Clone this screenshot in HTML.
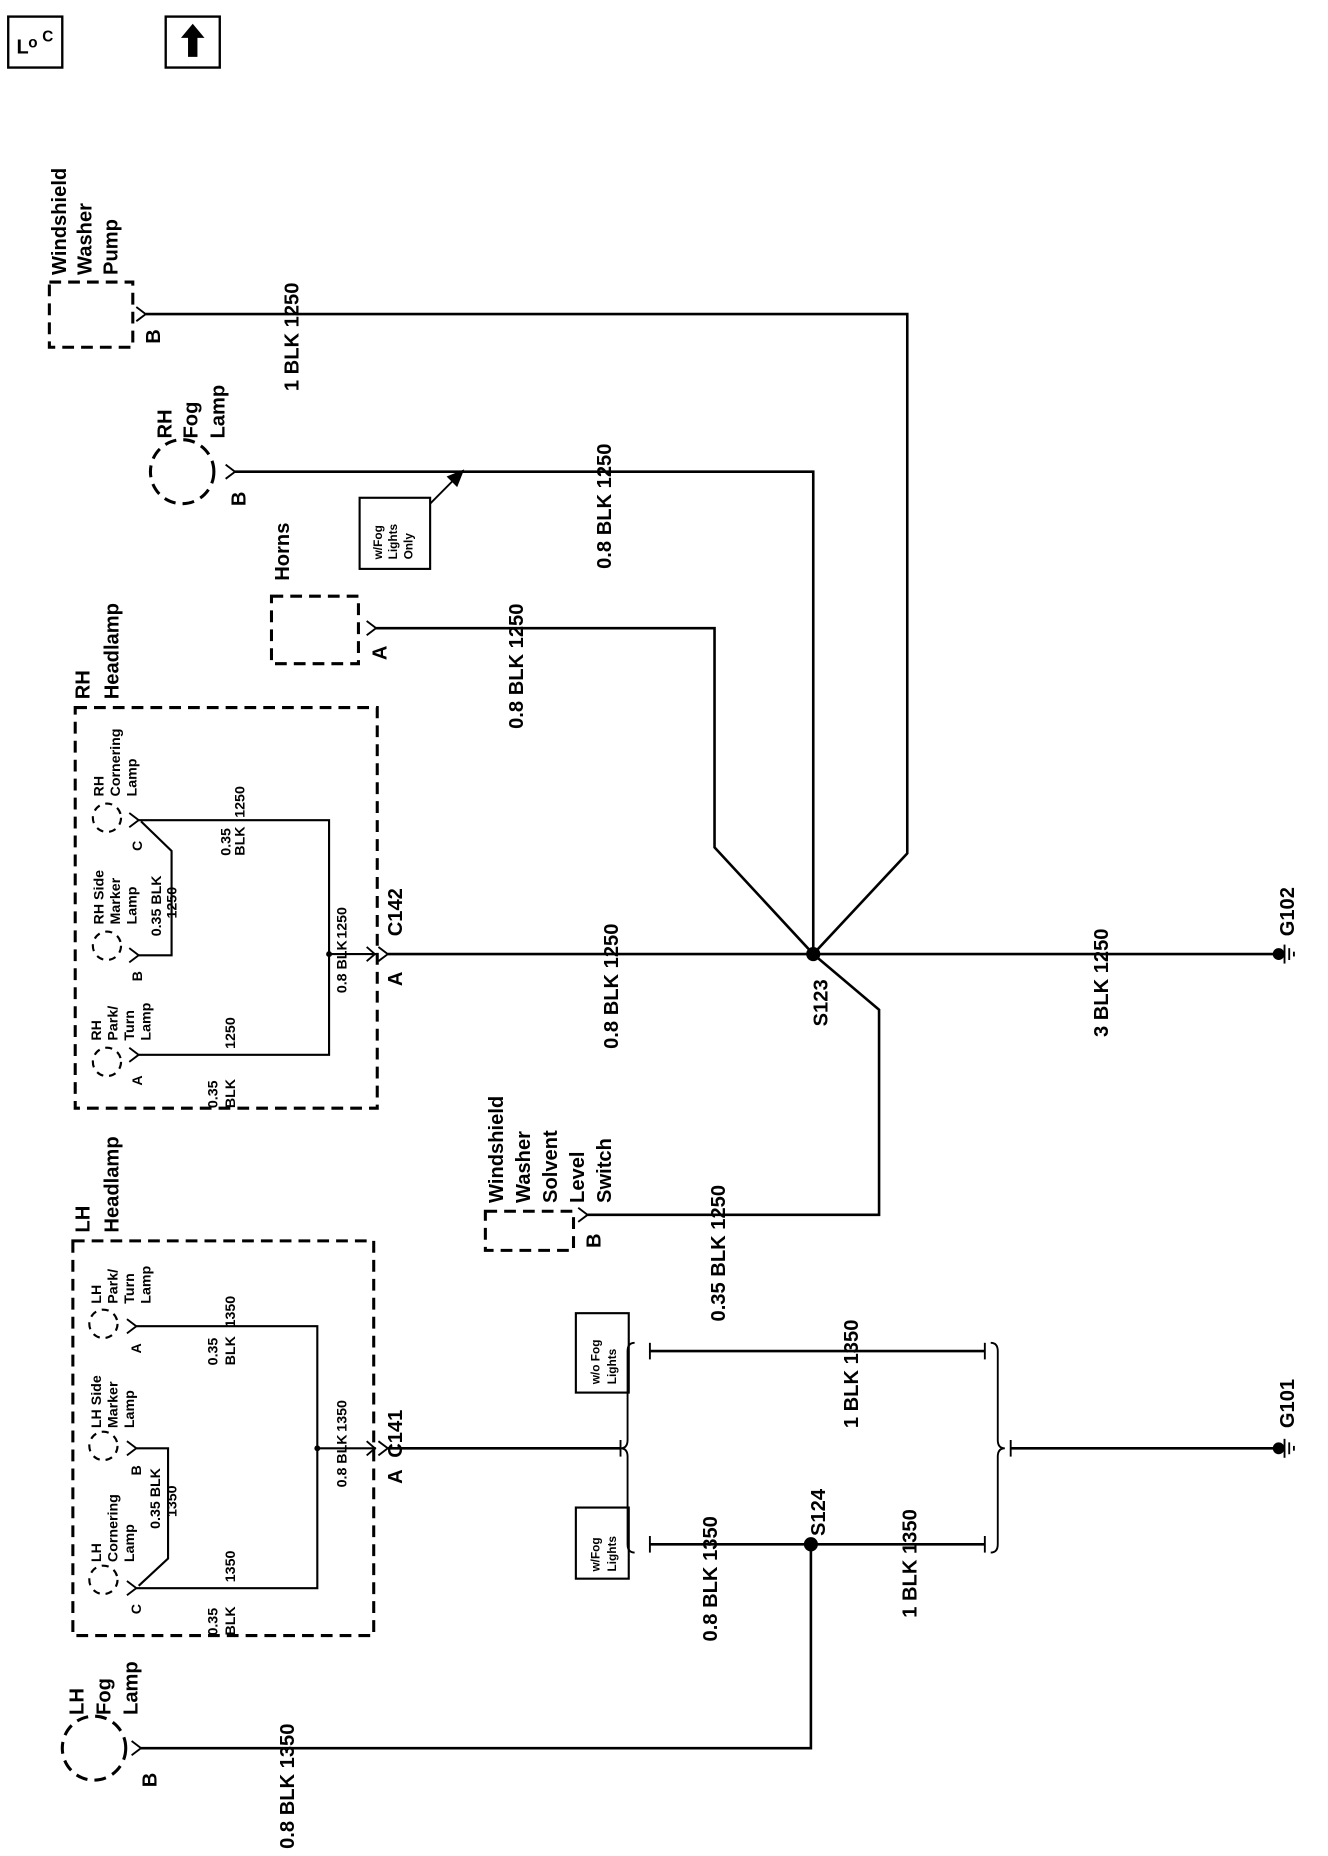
<!DOCTYPE html>
<html><head><meta charset="utf-8"><style>html,body{margin:0;padding:0;background:#fff}svg{display:block}text{font-family:"Liberation Sans",Arial,sans-serif;font-weight:bold;fill:#000}</style></head>
<body>
<svg width="1328" height="1856" viewBox="0 0 1130 1566" preserveAspectRatio="none" xmlns="http://www.w3.org/2000/svg">
<g fill="none" stroke="#000" stroke-width="2.2">
<rect x="7" y="14" width="46" height="43" stroke-width="2"/>
<rect x="141" y="14" width="46" height="43" stroke-width="2"/>
<g stroke-dasharray="10,6" stroke-width="2.6">
<rect x="42" y="238" width="71" height="55"/>
<circle cx="155" cy="398" r="27"/>
<rect x="231" y="503" width="74" height="57"/>
<rect x="64" y="597" width="257" height="338"/>
<rect x="413" y="1022" width="75" height="33"/>
<rect x="62" y="1047" width="256" height="333"/>
<circle cx="80" cy="1475" r="27"/>
</g>
<g stroke-dasharray="6,5" stroke-width="1.8">
<circle cx="91" cy="690" r="12"/><circle cx="91" cy="798" r="12"/><circle cx="91" cy="896" r="12"/>
<circle cx="88" cy="1117" r="12"/><circle cx="88" cy="1220" r="12"/><circle cx="88" cy="1333" r="12"/>
</g>
<polyline points="124,265 772,265 772,720 692,805"/>
<polyline points="200,398 692,398 692,805"/>
<polyline points="320,530 608,530 608,715 692,805"/>
<line x1="330" y1="805" x2="1085" y2="805"/>
<polyline points="692,805 748,852 748,1025 500,1025"/>
<polyline points="690,1303 690,1475 120,1475"/>
<line x1="330" y1="1222" x2="528" y2="1222"/>
<line x1="553" y1="1140" x2="838" y2="1140"/>
<line x1="553" y1="1303" x2="838" y2="1303"/>
<line x1="860" y1="1222" x2="1085" y2="1222"/>
<line x1="366" y1="425" x2="392" y2="399" stroke-width="1.6"/>
<g stroke-width="1.8">
<polyline points="118,692 280,692 280,890 118,890"/>
<polyline points="118,806 146,806 146,718 120,693"/>
<line x1="280" y1="805" x2="320" y2="805"/>
<polyline points="116,1119 270,1119 270,1340 116,1340"/>
<polyline points="116,1222 143,1222 143,1315 118,1338"/>
<line x1="270" y1="1222" x2="320" y2="1222"/>
</g>
<path d="M540 1133 Q534 1133 534 1140 L534 1215 Q534 1222 528 1222 Q534 1222 534 1229 L534 1303 Q534 1310 540 1310" stroke-width="1.6"/>
<path d="M843 1133 Q849 1133 849 1140 L849 1215 Q849 1222 855 1222 Q849 1222 849 1229 L849 1303 Q849 1310 843 1310" stroke-width="1.6"/>
<line x1="553" y1="1133" x2="553" y2="1147" stroke-width="1.6"/><line x1="838" y1="1133" x2="838" y2="1147" stroke-width="1.6"/>
<line x1="553" y1="1296" x2="553" y2="1310" stroke-width="1.6"/><line x1="838" y1="1296" x2="838" y2="1310" stroke-width="1.6"/>
<line x1="860" y1="1215" x2="860" y2="1229" stroke-width="1.6"/>
<line x1="528" y1="1215" x2="528" y2="1229" stroke-width="1.6"/>
<g stroke-width="1.6">
<path d="M116 259 L124 265 L116 271"/>
<path d="M192 392 L200 398 L192 404"/>
<path d="M312 524 L320 530 L312 536"/>
<path d="M322 799 L330 805 L322 811"/>
<path d="M492 1019 L500 1025 L492 1031"/>
<path d="M322 1216 L330 1222 L322 1228"/>
<path d="M112 1469 L120 1475 L112 1481"/>
<path d="M110 686 L118 692 L110 698"/><path d="M110 800 L118 806 L110 812"/><path d="M110 884 L118 890 L110 896"/>
<path d="M108 1113 L116 1119 L108 1125"/><path d="M108 1216 L116 1222 L108 1228"/><path d="M108 1334 L116 1340 L108 1346"/>
<path d="M312 799 L319 805 L312 811"/><path d="M312 1216 L319 1222 L312 1228"/>
</g>
<rect x="306" y="420" width="60" height="60" stroke-width="1.8"/>
<rect x="490" y="1108" width="45" height="67" stroke-width="1.8"/>
<rect x="490" y="1272" width="45" height="60" stroke-width="1.8"/>
<g stroke-width="1.6"><line x1="1093" y1="797" x2="1093" y2="813"/><line x1="1097" y1="800" x2="1097" y2="810"/><line x1="1101" y1="803" x2="1101" y2="807"/>
<line x1="1093" y1="1214" x2="1093" y2="1230"/><line x1="1097" y1="1217" x2="1097" y2="1227"/><line x1="1101" y1="1220" x2="1101" y2="1224"/></g>
</g>
<g fill="#000">
<circle cx="692" cy="805" r="6"/><circle cx="690" cy="1303" r="6"/>
<circle cx="280" cy="805" r="2.5"/><circle cx="270" cy="1222" r="2.5"/>
<circle cx="1088" cy="805" r="5"/><circle cx="1088" cy="1222" r="5"/>
<polygon points="395,396 380,402 389,411"/>
<polygon points="164,20 154,32 160,32 160,48 168,48 168,32 174,32"/>
</g>
<text x="14" y="45" font-size="17" font-weight="normal">L</text><text x="24" y="40" font-size="13" font-weight="normal">o</text><text x="36" y="35" font-size="13" font-weight="normal">C</text>
<g font-size="17">
<text transform="translate(56,232) rotate(-90)">Windshield</text>
<text transform="translate(78,232) rotate(-90)">Washer</text>
<text transform="translate(100,232) rotate(-90)">Pump</text>
<text transform="translate(136,290) rotate(-90)">B</text>
<text transform="translate(254,330) rotate(-90)">1 BLK  1250</text>
<text transform="translate(146,370) rotate(-90)">RH</text>
<text transform="translate(168,370) rotate(-90)">Fog</text>
<text transform="translate(191,370) rotate(-90)">Lamp</text>
<text transform="translate(209,427) rotate(-90)">B</text>
<text transform="translate(520,480) rotate(-90)">0.8 BLK  1250</text>
<text transform="translate(246,490) rotate(-90)">Horns</text>
<text transform="translate(329,557) rotate(-90)">A</text>
<text transform="translate(445,615) rotate(-90)">0.8 BLK  1250</text>
<text transform="translate(76,590) rotate(-90)">RH</text>
<text transform="translate(101,590) rotate(-90)">Headlamp</text>
<text transform="translate(342,790) rotate(-90)">C142</text>
<text transform="translate(342,832) rotate(-90)">A</text>
<text transform="translate(526,885) rotate(-90)">0.8 BLK  1250</text>
<text transform="translate(704,866) rotate(-90)">S123</text>
<text transform="translate(943,875) rotate(-90)">3 BLK  1250</text>
<text transform="translate(1101,790) rotate(-90)">G102</text>
<text transform="translate(428,1015) rotate(-90)">Windshield</text>
<text transform="translate(451,1015) rotate(-90)">Washer</text>
<text transform="translate(474,1015) rotate(-90)">Solvent</text>
<text transform="translate(497,1015) rotate(-90)">Level</text>
<text transform="translate(520,1015) rotate(-90)">Switch</text>
<text transform="translate(511,1053) rotate(-90)">B</text>
<text transform="translate(617,1115) rotate(-90)">0.35 BLK  1250</text>
<text transform="translate(76,1040) rotate(-90)">LH</text>
<text transform="translate(101,1040) rotate(-90)">Headlamp</text>
<text transform="translate(342,1230) rotate(-90)">C141</text>
<text transform="translate(342,1252) rotate(-90)">A</text>
<text transform="translate(730,1205) rotate(-90)">1 BLK  1350</text>
<text transform="translate(610,1385) rotate(-90)">0.8 BLK  1350</text>
<text transform="translate(702,1296) rotate(-90)">S124</text>
<text transform="translate(780,1365) rotate(-90)">1 BLK  1350</text>
<text transform="translate(1101,1205) rotate(-90)">G101</text>
<text transform="translate(71,1447) rotate(-90)">LH</text>
<text transform="translate(94,1447) rotate(-90)">Fog</text>
<text transform="translate(117,1447) rotate(-90)">Lamp</text>
<text transform="translate(133,1508) rotate(-90)">B</text>
<text transform="translate(250,1560) rotate(-90)">0.8 BLK  1350</text>
</g>
<g font-size="10">
<text transform="translate(325,472) rotate(-90)">w/Fog</text>
<text transform="translate(338,472) rotate(-90)">Lights</text>
<text transform="translate(351,472) rotate(-90)">Only</text>
<text transform="translate(510,1168) rotate(-90)">w/o Fog</text>
<text transform="translate(524,1168) rotate(-90)">Lights</text>
<text transform="translate(510,1326) rotate(-90)">w/Fog</text>
<text transform="translate(524,1326) rotate(-90)">Lights</text>
</g>
<g font-size="12" font-weight="normal">
<text transform="translate(88,672) rotate(-90)">RH</text><text transform="translate(102,672) rotate(-90)">Cornering</text><text transform="translate(116,672) rotate(-90)">Lamp</text>
<text transform="translate(121,718) rotate(-90)">C</text>
<text transform="translate(88,780) rotate(-90)">RH Side</text><text transform="translate(102,780) rotate(-90)">Marker</text><text transform="translate(116,780) rotate(-90)">Lamp</text>
<text transform="translate(121,828) rotate(-90)">B</text>
<text transform="translate(86,878) rotate(-90)">RH</text><text transform="translate(100,878) rotate(-90)">Park/</text><text transform="translate(114,878) rotate(-90)">Turn</text><text transform="translate(128,878) rotate(-90)">Lamp</text>
<text transform="translate(121,916) rotate(-90)">A</text>
<text transform="translate(137,790) rotate(-90)">0.35 BLK</text><text transform="translate(150,775) rotate(-90)">1250</text>
<text transform="translate(196,722) rotate(-90)">0.35</text><text transform="translate(208,722) rotate(-90)">BLK</text>
<text transform="translate(208,690) rotate(-90)">1250</text>
<text transform="translate(185,935) rotate(-90)">0.35</text><text transform="translate(200,935) rotate(-90)">BLK</text>
<text transform="translate(200,885) rotate(-90)">1250</text>
<text transform="translate(295,838) rotate(-90)">0.8 BLK</text><text transform="translate(295,792) rotate(-90)">1250</text>
<text transform="translate(86,1100) rotate(-90)">LH</text><text transform="translate(100,1100) rotate(-90)">Park/</text><text transform="translate(114,1100) rotate(-90)">Turn</text><text transform="translate(128,1100) rotate(-90)">Lamp</text>
<text transform="translate(120,1142) rotate(-90)">A</text>
<text transform="translate(86,1205) rotate(-90)">LH Side</text><text transform="translate(100,1205) rotate(-90)">Marker</text><text transform="translate(114,1205) rotate(-90)">Lamp</text>
<text transform="translate(120,1245) rotate(-90)">B</text>
<text transform="translate(86,1318) rotate(-90)">LH</text><text transform="translate(100,1318) rotate(-90)">Cornering</text><text transform="translate(114,1318) rotate(-90)">Lamp</text>
<text transform="translate(120,1362) rotate(-90)">C</text>
<text transform="translate(136,1290) rotate(-90)">0.35 BLK</text><text transform="translate(150,1280) rotate(-90)">1350</text>
<text transform="translate(185,1152) rotate(-90)">0.35</text><text transform="translate(200,1152) rotate(-90)">BLK</text>
<text transform="translate(200,1120) rotate(-90)">1350</text>
<text transform="translate(185,1380) rotate(-90)">0.35</text><text transform="translate(200,1380) rotate(-90)">BLK</text>
<text transform="translate(200,1335) rotate(-90)">1350</text>
<text transform="translate(295,1255) rotate(-90)">0.8 BLK</text><text transform="translate(295,1208) rotate(-90)">1350</text>
</g>
</svg>
</body></html>
